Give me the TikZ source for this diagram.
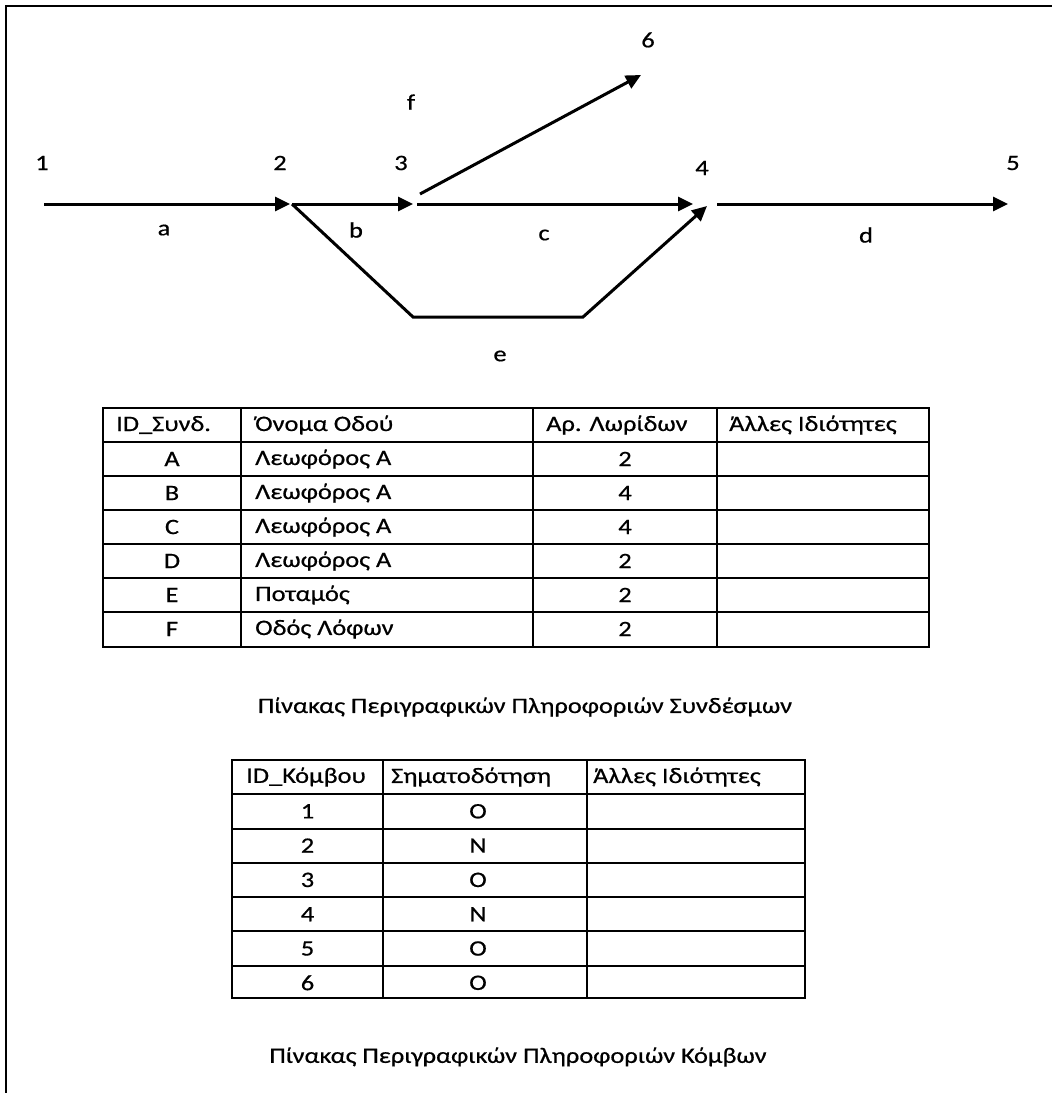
\documentclass[tikz,border=0pt]{standalone}
\usepackage{fontspec}
\setmainfont{Carlito}[FakeStretch=1.2,FakeBold=0.6]
\usetikzlibrary{arrows.meta}
\begin{document}
\begin{tikzpicture}[x=1pt,y=-1pt,
  txt/.style={font=\fontsize{22}{26}\selectfont, inner sep=0pt},
  lbl/.style={txt},
  cellc/.style={txt, anchor=center},
  cellw/.style={txt, anchor=west},
  road/.style={line width=3pt, -{Triangle[length=15pt,width=14pt]}},
  grid/.style={line width=1.6pt},
  frame/.style={line width=2pt}]
\useasboundingbox (0,0) rectangle (1052,1093);
\draw[frame] (6,1093) -- (6,6) -- (1052,6);

% network junction points
\coordinate (a0) at (44,204);
\coordinate (a1) at (290,204);
\coordinate (b0) at (292,204);
\coordinate (b1) at (413,204);
\coordinate (c0) at (417,204);
\coordinate (c1) at (693,204);
\coordinate (d0) at (717,204);
\coordinate (d1) at (1008,204);
\coordinate (f0) at (420,194);
\coordinate (f1) at (641,75);
\coordinate (e1) at (413,317);
\coordinate (e2) at (583,317);
\coordinate (e3) at (707,206);

\draw[road] (a0) -- (a1);
\draw[road] (b0) -- (b1);
\draw[road] (c0) -- (c1);
\draw[road] (d0) -- (d1);
\draw[road] (f0) -- (f1);
\draw[road, line join=miter] (b0) -- (e1) -- (e2) -- (e3);

% node numbers
\node[lbl] (l1) at (42,163) {1};
\node[lbl] (l2) at (280,163) {2};
\node[lbl] (l3) at (401,163) {3};
\node[lbl] (l4) at (702,168) {4};
\node[lbl] (l5) at (1013,163) {5};
\node[lbl] (l6) at (648,40) {6};
% link letters
\node[lbl] (lf) at (411,102) {f};
\node[lbl] (la) at (164,230) {a};
\node[lbl] (lb) at (356,230) {b};
\node[lbl] (lc) at (544,235) {c};
\node[lbl] (ld) at (866,235) {d};
\node[lbl] (le) at (500,356) {e};

% table 1
\draw[grid] (103,408) rectangle (929,647);
\foreach \yy in {442,476,510,544,578,612} \draw[grid] (103,\yy) -- (929,\yy);
\foreach \xx in {241,533,717} \draw[grid] (\xx,408) -- (\xx,647);
\node[cellw] (t1h1) at (116,425) {ID\_Συνδ.};
\node[cellw] (t1h2) at (255,425) {Όνομα Οδού};
\node[cellw] (t1h3) at (546,425) {Αρ. Λωρίδων};
\node[cellw] (t1h4) at (729,425) {Άλλες Ιδιότητες};
\foreach \id/\nm/\ln [count=\i] in {A/Λεωφόρος Α/2, B/Λεωφόρος Α/4, C/Λεωφόρος Α/4, D/Λεωφόρος Α/2, E/Ποταμός/2, F/Οδός Λόφων/2}{
  \node[cellc] (t1id\i) at (172,425+34*\i) {\id};
  \node[cellw] (t1nm\i) at (255,425+34*\i) {\nm};
  \node[cellc] (t1ln\i) at (625,425+34*\i) {\ln};
}
\node[txt] (cap1) at (525,707) {Πίνακας Περιγραφικών Πληροφοριών Συνδέσμων};

% table 2
\draw[grid] (232,760) rectangle (805,998);
\foreach \yy in {794,829,863,897,931,966} \draw[grid] (232,\yy) -- (805,\yy);
\foreach \xx in {383,587} \draw[grid] (\xx,760) -- (\xx,998);
\node[cellw] (t2h1) at (246,777) {ID\_Κόμβου};
\node[cellw] (t2h2) at (391,777) {Σηματοδότηση};
\node[cellw] (t2h3) at (593,777) {Άλλες Ιδιότητες};
\foreach \sg [count=\i] in {O,N,O,N,O,O}{
  \node[cellc] (t2id\i) at (307.5,777+34.3*\i) {\i};
  \node[cellc] (t2sg\i) at (478,777+34.3*\i) {\sg};
}
\node[txt] (cap2) at (518,1057) {Πίνακας Περιγραφικών Πληροφοριών Κόμβων};
\end{tikzpicture}
\end{document}
